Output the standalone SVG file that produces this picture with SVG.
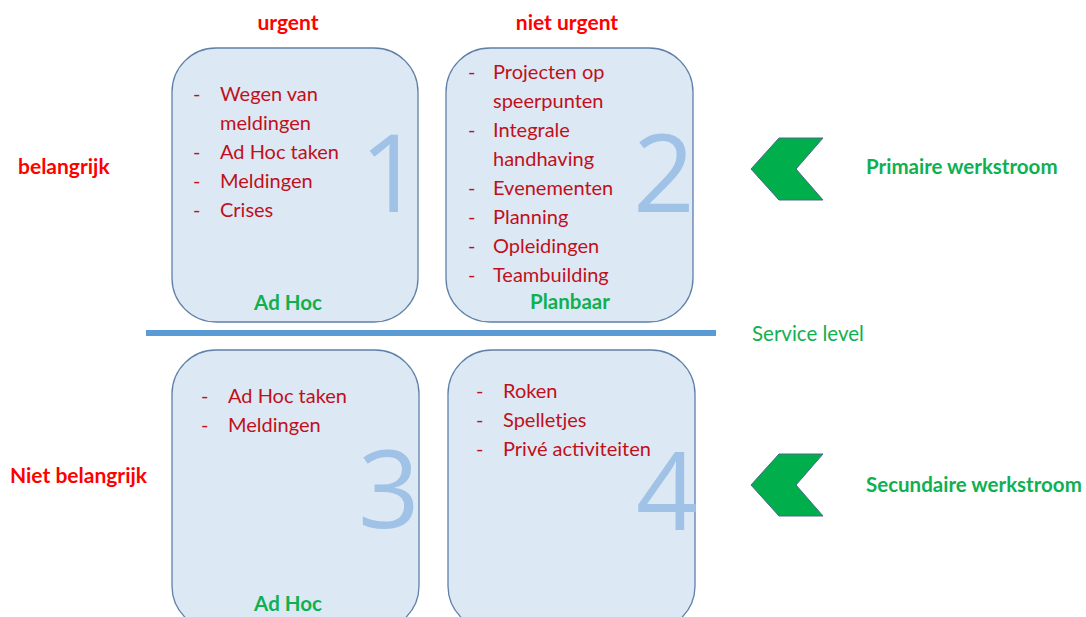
<svg xmlns="http://www.w3.org/2000/svg" width="1086" height="617" viewBox="0 0 1086 617">
<style>
.box{fill:#dde8f5;stroke:#5f80a8;stroke-width:1.3}
.item{font-family:Lato,"Liberation Sans",sans-serif;font-size:20px;fill:#c0101a}
.num{font-family:"Open Sans","Liberation Sans",sans-serif;font-size:108px;fill:#9fc2e6}
.hdr{font-family:Lato,"Liberation Sans",sans-serif;font-size:21px;font-weight:bold;fill:#ff0000}
.grn{font-family:Lato,"Liberation Sans",sans-serif;font-size:20.5px;font-weight:bold;fill:#10b050}
.chev{fill:#00ae4c;stroke:#4a6a8a;stroke-width:1}
</style>
<rect width="1086" height="617" fill="#ffffff"/>
<g id="headers">
<text class="hdr" x="288" y="30" text-anchor="middle">urgent</text>
<text class="hdr" x="567" y="30" text-anchor="middle">niet urgent</text>
<text class="hdr" x="18" y="174">belangrijk</text>
<text class="hdr" x="10" y="483">Niet belangrijk</text>
</g>
<g id="q1">
<rect class="box" x="172" y="48" width="246" height="274" rx="44"/>
<text class="num" x="360" y="212">1</text>
<g class="item">
<text x="193" y="101">-</text><text x="220" y="101">Wegen van</text>
<text x="220" y="130">meldingen</text>
<text x="193" y="159">-</text><text x="220" y="159">Ad Hoc taken</text>
<text x="193" y="188">-</text><text x="220" y="188">Meldingen</text>
<text x="193" y="217">-</text><text x="220" y="217">Crises</text>
</g>
<text class="grn" x="288" y="310" text-anchor="middle">Ad Hoc</text>
</g>
<g id="q2">
<rect class="box" x="446" y="48" width="247" height="274" rx="44"/>
<text class="num" x="633" y="212">2</text>
<g class="item">
<text x="468" y="79">-</text><text x="493" y="79">Projecten op</text>
<text x="493" y="108">speerpunten</text>
<text x="468" y="137">-</text><text x="493" y="137">Integrale</text>
<text x="493" y="166">handhaving</text>
<text x="468" y="195">-</text><text x="493" y="195">Evenementen</text>
<text x="468" y="224">-</text><text x="493" y="224">Planning</text>
<text x="468" y="253">-</text><text x="493" y="253">Opleidingen</text>
<text x="468" y="282">-</text><text x="493" y="282">Teambuilding</text>
</g>
<text class="grn" x="570" y="309" text-anchor="middle">Planbaar</text>
</g>
<g id="q3">
<rect class="box" x="172" y="350" width="247" height="280" rx="44"/>
<text class="num" x="358" y="528">3</text>
<g class="item">
<text x="201" y="403">-</text><text x="228" y="403">Ad Hoc taken</text>
<text x="201" y="432">-</text><text x="228" y="432">Meldingen</text>
</g>
<text class="grn" x="288" y="611" text-anchor="middle">Ad Hoc</text>
</g>
<g id="q4">
<rect class="box" x="448" y="350" width="247" height="280" rx="44"/>
<text class="num" x="636" y="530" font-size="100">4</text>
<g class="item">
<text x="476" y="398">-</text><text x="503" y="398">Roken</text>
<text x="476" y="427">-</text><text x="503" y="427">Spelletjes</text>
<text x="476" y="456">-</text><text x="503" y="456">Privé activiteiten</text>
</g>
</g>
<g id="service-level">
<rect x="146" y="330" width="570" height="6" fill="#5b9bd5"/>
<text x="752" y="341" font-family="Lato,'Liberation Sans',sans-serif" font-size="20.5" fill="#10b050">Service level</text>
</g>
<g id="primaire">
<polygon class="chev" points="751,169 779,138 823,138 796,169 823,200 779,200"/>
<text class="grn" x="866" y="174">Primaire werkstroom</text>
</g>
<g id="secundaire">
<polygon class="chev" points="751,485 779,454 823,454 796,485 823,516 779,516"/>
<text class="grn" x="866" y="492">Secundaire werkstroom</text>
</g>
</svg>
